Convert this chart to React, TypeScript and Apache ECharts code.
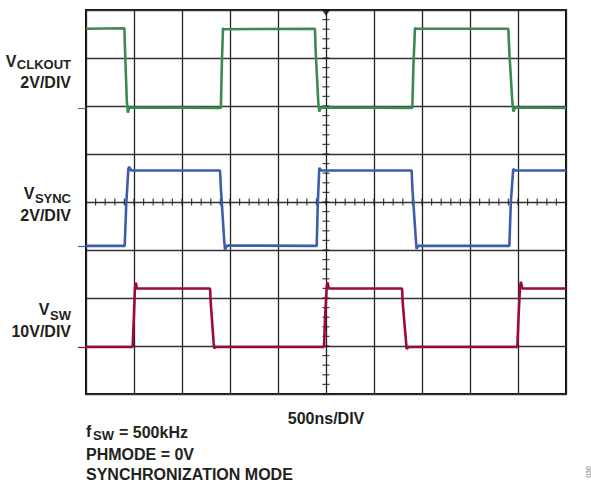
import React, { useEffect, useRef } from "react";
import * as echarts from "echarts";

// time in µs (500 ns/div, 10 divisions), level in volts
const CLKOUT: [number, number][] = [
  [0.0, 3.3], [0.4, 3.32], [0.405, 2.6], [0.425, 0.3], [0.437, -0.2], [0.45, 0.02],
  [1.405, 0.0], [1.415, 1.8], [1.427, 3.32], [1.44, 3.28],
  [2.385, 3.3], [2.392, 2.4], [2.42, 0.2], [2.43, -0.15], [2.445, 0.02],
  [3.399, 0.0], [3.41, 1.7], [3.427, 3.33], [3.44, 3.3],
  [4.399, 3.3], [4.41, 2.3], [4.44, 0.3], [4.452, -0.15], [4.47, 0.02],
  [5.0, 0.0],
];

const SYNC: [number, number][] = [
  [0.0, 0.0], [0.403, 0.0], [0.42, 1.8], [0.441, 3.2], [0.45, 3.3], [0.47, 3.14],
  [1.396, 3.14], [1.405, 2.4], [1.44, 0.2], [1.448, -0.15], [1.47, 0.02],
  [2.403, 0.0], [2.415, 1.8], [2.43, 3.25], [2.45, 3.14],
  [3.392, 3.14], [3.4, 2.4], [3.437, 0.2], [3.444, -0.12], [3.46, 0.0],
  [4.41, 0.0], [4.425, 1.8], [4.45, 3.2], [4.47, 3.14], [5.0, 3.14],
];

const SW: [number, number][] = [
  [0.0, 0.0], [0.486, 0.0], [0.498, 6], [0.51, 12.3], [0.52, 13.4], [0.53, 12.2],
  [1.292, 12.2], [1.3, 9], [1.33, 0.8], [1.336, -0.3], [1.35, 0.0],
  [2.479, 0.0], [2.49, 6], [2.507, 12.4], [2.515, 13.5], [2.53, 12.2],
  [3.292, 12.2], [3.3, 9], [3.335, 0.8], [3.34, -0.4], [3.36, 0.0],
  [4.493, 0.0], [4.505, 6], [4.521, 12.4], [4.53, 13.6], [4.545, 12.2], [5.0, 12.2],
];

const CHANNEL_NAMES = ["CLKOUT", "SYNC", "SW"];
const CHANNEL_SCALES = ["2V/DIV", "2V/DIV", "10V/DIV"];
const TIME_SCALE = "500ns/DIV";
const NOTES = ["= 500kHz", "PHMODE = 0V", "SYNCHRONIZATION MODE"];

const GREEN = "#3b8a4f";
const BLUE = "#3d5dac";
const RED = "#9a0c35";
const INK = "#231f20";
const FONT = "'Liberation Sans', Arial, sans-serif";

export default function App() {
  const ref = useRef<HTMLDivElement>(null);
  useEffect(() => {
    document.body.style.margin = "0";
    const chart = echarts.init(ref.current!, null, { renderer: "svg" });

    // graticule ticks on the centre lines
    const hTicks: [number, number][] = [];
    for (let i = 0; i <= 50; i++) hTicks.push([i * 0.1, 0]);
    const vTicks: [number, number][] = [];
    for (let j = -20; j <= 20; j++) vTicks.push([2.5, j * 0.2]);

    const gndAxis = (min: number, max: number, color: string) => ({
      type: "value",
      min,
      max,
      position: "left",
      axisLine: { show: false },
      splitLine: { show: false },
      axisLabel: { show: false },
      axisTick: {
        show: true,
        length: 8,
        inside: false,
        customValues: [0],
        lineStyle: { color, width: 1.2 },
      },
    });

    const txt = (text: string, x: number, y: number, size: number, align = "left", extra: any = {}) => ({
      type: "text",
      x,
      y,
      style: {
        text,
        fill: INK,
        fontSize: size,
        fontWeight: "bold",
        fontFamily: FONT,
        align,
        verticalAlign: "middle",
        ...extra,
      },
    });

    const option: any = {
      animation: false,
      grid: {
        left: 86,
        top: 10,
        width: 480,
        height: 384,
        show: true,
        borderColor: "#111",
        borderWidth: 2,
        backgroundColor: "#fff",
      },
      xAxis: {
        type: "value",
        min: 0,
        max: 5,
        interval: 0.5,
        axisLine: { show: false },
        axisTick: { show: false },
        axisLabel: { show: false },
        splitLine: { show: true, lineStyle: { color: "#222", width: 1.3 } },
      },
      yAxis: [
        gndAxis(-11.92, 4.08, GREEN),
        gndAxis(-6.17, 9.83, BLUE),
        gndAxis(-9.79, 70.21, RED),
        {
          type: "value",
          min: -4,
          max: 4,
          interval: 1,
          axisLine: { show: false },
          axisTick: { show: false },
          axisLabel: { show: false },
          splitLine: { show: true, lineStyle: { color: "#333", width: 1.3 } },
        },
      ],
      series: [
        {
          type: "scatter",
          yAxisIndex: 3,
          data: hTicks,
          symbol: "rect",
          symbolSize: [1.2, 7],
          itemStyle: { color: "#111" },
          silent: true,
          z: 1,
        },
        {
          type: "scatter",
          yAxisIndex: 3,
          data: vTicks,
          symbol: "rect",
          symbolSize: [7, 1.2],
          itemStyle: { color: "#111" },
          silent: true,
          z: 1,
        },
        {
          type: "scatter",
          yAxisIndex: 3,
          data: [[2.5, 4]],
          symbol: "triangle",
          symbolRotate: 180,
          symbolSize: [8, 6],
          symbolOffset: [0, 3],
          itemStyle: { color: "#111" },
          silent: true,
          clip: false,
          z: 5,
        },
        {
          type: "line",
          yAxisIndex: 0,
          data: CLKOUT,
          showSymbol: false,
          lineStyle: { color: GREEN, width: 2.6 },
          z: 3,
        },
        {
          type: "line",
          yAxisIndex: 1,
          data: SYNC,
          showSymbol: false,
          lineStyle: { color: BLUE, width: 2.6 },
          z: 3,
        },
        {
          type: "line",
          yAxisIndex: 2,
          data: SW,
          showSymbol: false,
          lineStyle: { color: RED, width: 2.6 },
          z: 3,
        },
      ],
      graphic: [
        // channel labels
        txt("V", 16.5, 61, 16, "right"),
        txt(CHANNEL_NAMES[0], 71, 64.5, 13, "right"),
        txt(CHANNEL_SCALES[0], 71, 82, 16, "right"),
        txt("V", 34.5, 193, 16, "right"),
        txt(CHANNEL_NAMES[1], 71, 198.5, 13, "right"),
        txt(CHANNEL_SCALES[1], 71, 215, 16, "right"),
        txt("V", 49.5, 309, 16, "right"),
        txt(CHANNEL_NAMES[2], 71, 315, 13, "right"),
        txt(CHANNEL_SCALES[2], 71, 331, 16, "right"),
        // time scale
        txt(TIME_SCALE, 326, 418, 16, "center"),
        // notes
        txt("f", 86, 431.5, 16, "left"),
        txt("SW", 93, 435.5, 13, "left"),
        txt(NOTES[0], 119, 432, 16, "left"),
        txt(NOTES[1], 86, 454, 16, "left"),
        txt(NOTES[2], 86, 474, 16, "left"),
        {
          type: "text",
          x: 588,
          y: 472,
          rotation: Math.PI / 2,
          style: {
            text: "036",
            fill: "#777",
            fontSize: 7,
            fontFamily: FONT,
            align: "center",
            verticalAlign: "middle",
          },
        },
      ],
    };
    chart.setOption(option);
    return () => chart.dispose();
  }, []);
  return (
    <div
      ref={ref}
      style={{ position: "fixed", left: 0, top: 0, width: 591, height: 485, background: "#fff" }}
    />
  );
}
